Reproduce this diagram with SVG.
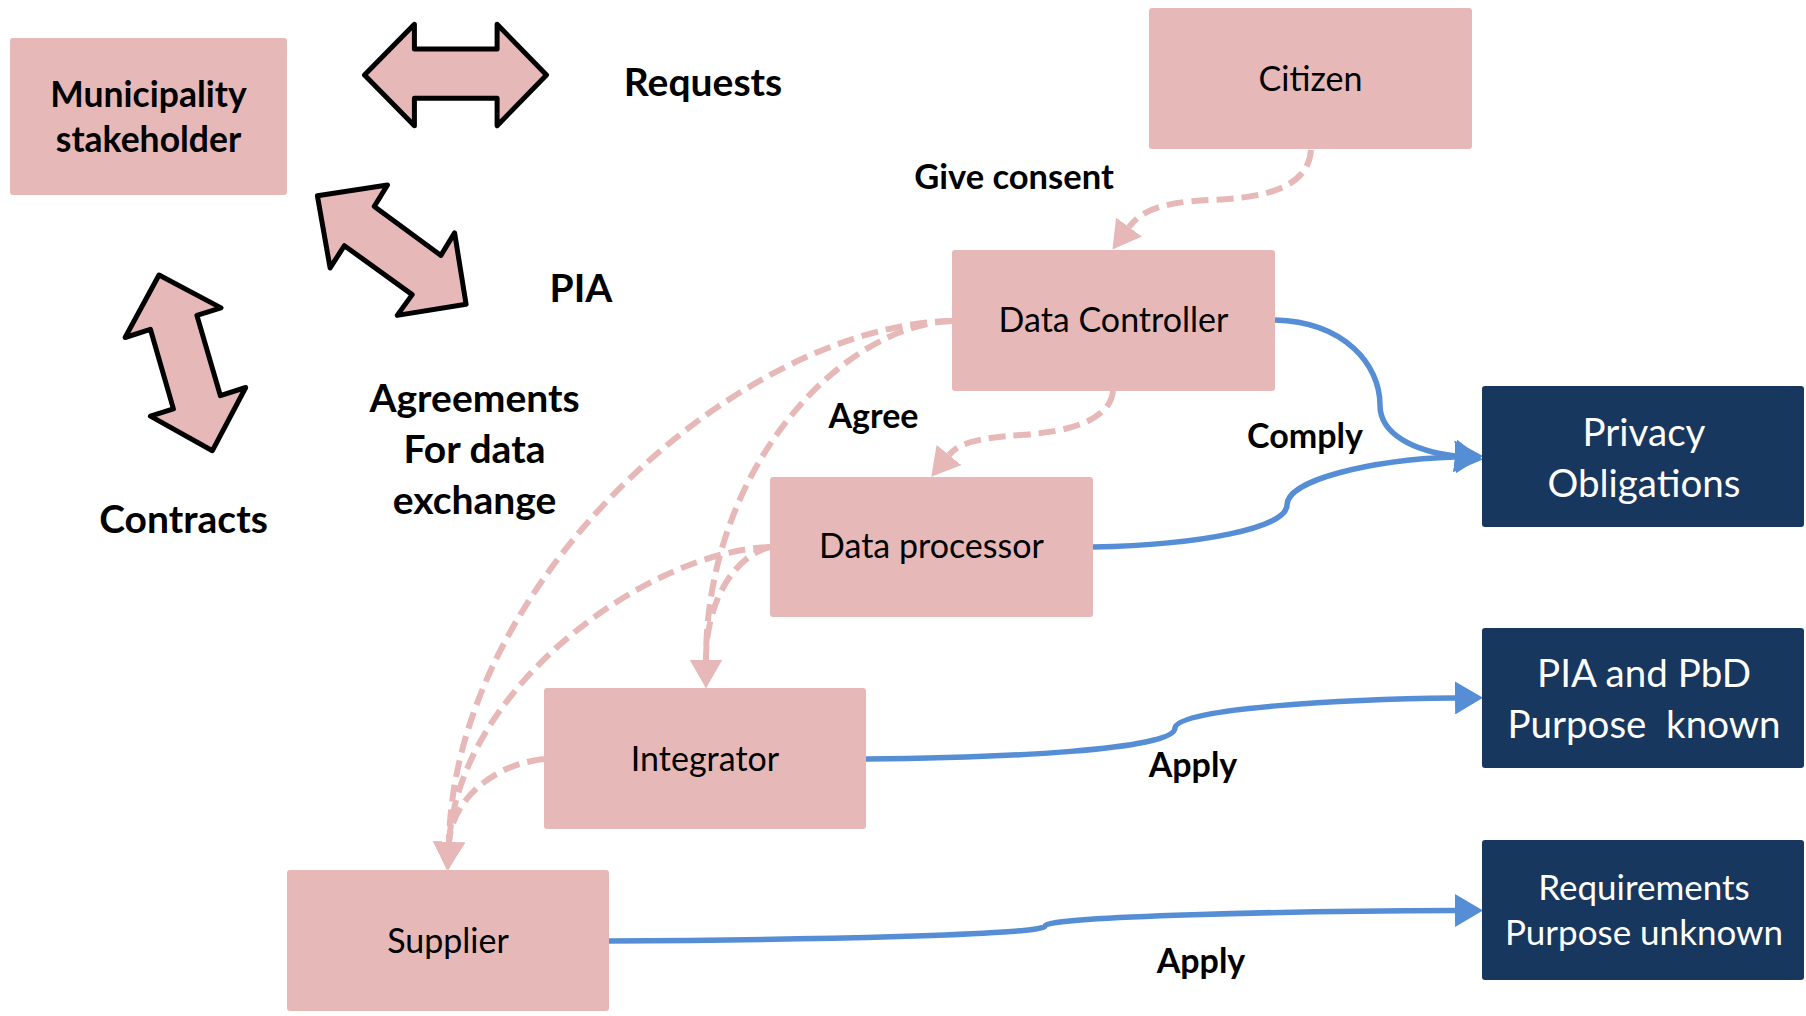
<svg xmlns="http://www.w3.org/2000/svg" width="1806" height="1016" viewBox="0 0 1806 1016">
<style>
.pink{fill:#e6b9b8;}
.navy{fill:#17375e;}
.t{font-family:Lato,"Liberation Sans",sans-serif;font-size:34px;text-anchor:middle;fill:#000;}
.b{font-weight:bold;}
.big{font-size:39px;}
.w{fill:#fff;font-size:38.5px;}
.blk{fill:#e6b9b8;stroke:#000;stroke-width:5;stroke-linejoin:round;}
.dash{fill:none;stroke:#e6b9b8;stroke-width:6;stroke-dasharray:17 8;}
.blue{fill:none;stroke:#558ed5;stroke-width:5.5;}
</style>
<defs>
<marker id="ph" viewBox="0 -16 28 32" refX="0" refY="0" markerWidth="28" markerHeight="32" markerUnits="userSpaceOnUse" orient="auto">
<path d="M0,-16 L28,0 L0,16 Z" fill="#e6b9b8"/>
</marker>
<marker id="bh" viewBox="0 -16.5 28 33" refX="0" refY="0" markerWidth="28" markerHeight="33" markerUnits="userSpaceOnUse" orient="auto">
<path d="M0,-16.5 L28,0 L0,16.5 Z" fill="#558ed5"/>
</marker>
</defs>
<rect width="1806" height="1016" fill="#fff"/>

<g id="connectors">
<path class="dash" d="M1311,150 C1308,190 1260,198 1210,200 C1160,202 1140,212 1129,227" marker-end="url(#ph)"/>
<path class="dash" d="M1113,391 C1110,420 1070,432 1020,435 C975,438 958,444 949,455" marker-end="url(#ph)"/>
<path class="dash" d="M952,321 C740,325 455,580 449,842" marker-end="url(#ph)"/>
<path class="dash" d="M952,321 C840,325 706,470 706,660" marker-end="url(#ph)"/>
<path class="dash" d="M770,547 C650,551 460,685 449,842" marker-end="url(#ph)"/>
<path class="dash" d="M770,547 C735,556 706,600 706,660" marker-end="url(#ph)"/>
<path class="dash" d="M544,759 C490,765 452,802 449,842" marker-end="url(#ph)"/>
<path class="blue" d="M1275,320 C1345,322 1380,365 1380,405 C1380,435 1415,451 1455,456" marker-end="url(#bh)"/>
<path class="blue" d="M1093,547 C1200,545 1287,528 1287,505 C1287,480 1370,460 1455,457" marker-end="url(#bh)"/>
<path class="blue" d="M866,759 C1000,758 1175,750 1175,728 C1175,708 1350,699 1455,698" marker-end="url(#bh)"/>
<path class="blue" d="M609,941 C800,940 1045,935 1045,926 C1045,916 1300,911 1455,910.5" marker-end="url(#bh)"/>
</g>

<g id="arrow-requests">
<path class="blk" d="M364.5,75 L414.4,24.3 L414.4,48.9 L497.1,48.9 L497.1,24.3 L546.5,75 L497.1,125.7 L497.1,98.2 L414.4,98.2 L414.4,125.7 Z"/>
</g>
<g id="arrow-pia">
<path class="blk" d="M317.4,195.7 L387.5,185 L374.3,206.4 L440.9,255.4 L454.6,232.9 L466.1,304.3 L397.2,315.4 L412.2,294.6 L344.4,245.7 L330.1,267.9 Z"/>
</g>
<g id="arrow-contracts">
<path class="blk" d="M159,275 L221,307.9 L196.9,315.4 L220.4,395.7 L245.7,387.5 L212.4,450.7 L150.4,416.1 L173.4,408.9 L150.4,329.3 L125.1,337.5 Z"/>
</g>

<g id="municipality">
<rect class="pink" x="10" y="38" width="277" height="157" rx="3"/>
<text class="t b" x="148.5" y="107" style="font-size:35.5px">Municipality</text>
<text class="t b" x="148.5" y="152" style="font-size:35.5px">stakeholder</text>
</g>
<g id="citizen">
<rect class="pink" x="1149" y="8" width="323" height="141" rx="3"/>
<text class="t" x="1310.5" y="91">Citizen</text>
</g>
<g id="data-controller">
<rect class="pink" x="952" y="250" width="323" height="141" rx="3"/>
<text class="t" x="1113.5" y="332">Data Controller</text>
</g>
<g id="data-processor">
<rect class="pink" x="770" y="477" width="323" height="140" rx="3"/>
<text class="t" x="931.5" y="558">Data processor</text>
</g>
<g id="integrator">
<rect class="pink" x="544" y="688" width="322" height="141" rx="3"/>
<text class="t" x="705" y="771">Integrator</text>
</g>
<g id="supplier">
<rect class="pink" x="287" y="870" width="322" height="141" rx="3"/>
<text class="t" x="448" y="953">Supplier</text>
</g>
<g id="privacy-obligations">
<rect class="navy" x="1482" y="386" width="322" height="141" rx="3"/>
<text class="t w" x="1644" y="446">Privacy</text>
<text class="t w" x="1644" y="497">Obligations</text>
</g>
<g id="pia-pbd">
<rect class="navy" x="1482" y="628" width="322" height="140" rx="3"/>
<text class="t w" x="1644" y="687">PIA and PbD</text>
<text class="t w" x="1644" y="738" xml:space="preserve">Purpose  known</text>
</g>
<g id="requirements">
<rect class="navy" x="1482" y="840" width="322" height="140" rx="3"/>
<text class="t w" x="1644" y="900" style="font-size:35px">Requirements</text>
<text class="t w" x="1644" y="945" style="font-size:35px">Purpose unknown</text>
</g>

<g id="labels">
<text class="t b big" x="703" y="96">Requests</text>
<text class="t b big" x="581" y="302">PIA</text>
<text class="t b big" x="474.5" y="412">Agreements</text>
<text class="t b big" x="474.5" y="463">For data</text>
<text class="t b big" x="474.5" y="514">exchange</text>
<text class="t b big" x="183.5" y="533">Contracts</text>
<text class="t b" x="1014" y="189" style="font-size:34.5px">Give consent</text>
<text class="t b" x="873.5" y="428">Agree</text>
<text class="t b" x="1305" y="448">Comply</text>
<text class="t b" x="1193" y="777">Apply</text>
<text class="t b" x="1201" y="973">Apply</text>
</g>
</svg>
